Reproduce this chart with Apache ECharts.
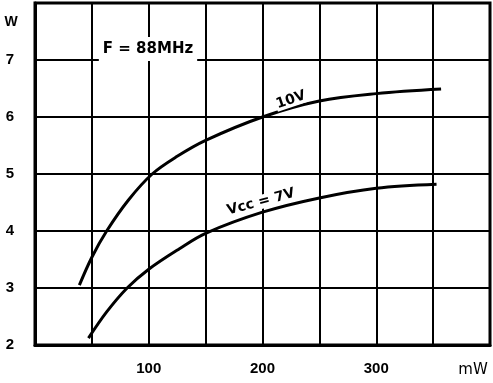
<!DOCTYPE html>
<html>
<head>
<meta charset="utf-8">
<script src="https://cdn.jsdelivr.net/npm/echarts@6/dist/echarts.min.js"></script>
<style>
html,body{margin:0;padding:0;background:#fff;}
#c{width:493px;height:383px;}
</style>
</head>
<body>
<div id="c"></div>
<script>
// Data
var xTickLabels = [100, 200, 300];
var yTickLabels = [2, 3, 4, 5, 6, 7];
var x10 = [39, 50, 63, 82, 103, 125, 150, 200, 250, 300, 357];
var y10 = [3.05, 3.54, 4.0, 4.54, 5.0, 5.31, 5.59, 6.0, 6.28, 6.41, 6.49];
var x7 = [47, 63, 81, 100, 127, 150, 200, 250, 300, 353];
var y7 = [2.12, 2.58, 3.0, 3.33, 3.69, 3.96, 4.33, 4.58, 4.75, 4.82];
var xUnit = 'mW';
var yUnit = 'W';
var freqLabel = 'F = 88MHz';
var label10 = '10V';
var label7 = 'Vcc = 7V';

function pairs(xs, ys) { return xs.map(function (x, i) { return [x, ys[i]]; }); }

var chart = echarts.init(document.getElementById('c'), null, {renderer: 'canvas'});
var bold = 'bold';
chart.setOption({
  animation: false,
  backgroundColor: '#fff',
  grid: {left: 35, right: 3, top: 3, bottom: 38, show: true, borderColor: '#000', borderWidth: 3, backgroundColor: 'transparent'},
  xAxis: {
    type: 'value', min: 0, max: 400, interval: 50,
    axisLine: {show: true, lineStyle: {color: '#000', width: 3}},
    axisTick: {show: false},
    splitLine: {show: true, lineStyle: {color: '#000', width: 2}},
    axisLabel: {
      margin: 16, color: '#000', fontFamily: 'Liberation Sans', fontWeight: bold, fontSize: 15,
      formatter: function (v) { return xTickLabels.indexOf(v) >= 0 ? String(v) : ''; }
    }
  },
  yAxis: {
    type: 'value', min: 2, max: 8, interval: 1,
    axisLine: {show: true, lineStyle: {color: '#000', width: 3}},
    axisTick: {show: false},
    splitLine: {show: true, lineStyle: {color: '#000', width: 2}},
    axisLabel: {
      margin: 21, color: '#000', fontFamily: 'Liberation Sans', fontWeight: bold, fontSize: 15,
      padding: [0, 0, 8, 0],
      formatter: function (v) { return yTickLabels.indexOf(v) >= 0 ? String(v) : ''; }
    }
  },
  series: [
    {type: 'line', data: pairs(x10, y10), smooth: 0.35, showSymbol: false, symbol: 'none',
     lineStyle: {color: '#000', width: 3}, z: 5},
    {type: 'line', data: pairs(x7, y7), smooth: 0.35, showSymbol: false, symbol: 'none',
     lineStyle: {color: '#000', width: 3}, z: 5}
  ],
  graphic: [
    {type: 'text', x: 11, y: 22, z: 100, style: {text: yUnit, fill: '#000', font: 'bold 14px "Liberation Sans"', align: 'center', verticalAlign: 'middle'}},
    {type: 'text', x: 473, y: 370, z: 100, style: {text: xUnit, fill: '#000', font: '15px "DejaVu Sans"', align: 'center', verticalAlign: 'middle'}},
    {type: 'text', x: 148, y: 49, z: 100, style: {text: freqLabel, fill: '#000', font: 'bold 15px "DejaVu Sans"', align: 'center', verticalAlign: 'middle', backgroundColor: '#fff', padding: [6, 4, 3, 4]}},
    {type: 'text', x: 291, y: 100, rotation: 0.33, z: 100, style: {text: label10, fill: '#000', font: 'bold 14px "DejaVu Sans"', align: 'center', verticalAlign: 'middle', backgroundColor: '#fff', padding: [0, 1, 0, 1]}},
    {type: 'text', x: 261, y: 202, rotation: 0.26, z: 100, style: {text: label7, fill: '#000', font: 'bold 14px "DejaVu Sans"', align: 'center', verticalAlign: 'middle', backgroundColor: '#fff', padding: [0, 1, 0, 1]}}
  ]
});
</script>
</body>
</html>
